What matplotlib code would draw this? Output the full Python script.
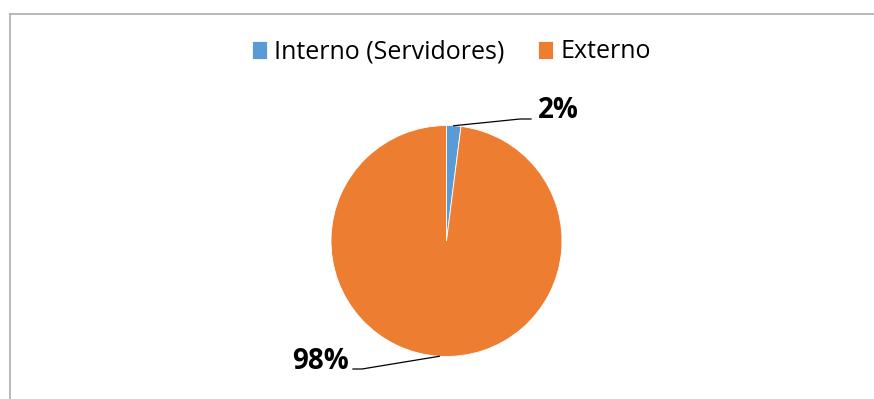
import numpy as np
import matplotlib
matplotlib.use("Agg")
import matplotlib.pyplot as plt
from matplotlib.lines import Line2D

plt.rcParams['font.family'] = ['Open Sans', 'DejaVu Sans']

# datos
categorias = ['Interno (Servidores)', 'Externo']
valores = [2, 98]
colores = ['#5B9BD5', '#ED7D31']

W, H = 874, 399
fig = plt.figure(figsize=(W / 100, H / 100), dpi=100)

# centro y radio del pastel en pixeles
cx, cy, R = 446.5, 241, 115.5
ax = fig.add_axes([(cx - R) / W, (H - cy - R) / H, 2 * R / W, 2 * R / H])

wedges, _ = ax.pie(valores, colors=colores, startangle=90, counterclock=False,
                   wedgeprops=dict(edgecolor='white', linewidth=0.6))
ax.set_xlim(-1, 1)
ax.set_ylim(-1, 1)
ax.set_aspect('equal')

def px(x, y):
    # pixeles de la figura -> coordenadas del eje
    return (x - cx) / R, (cy - y) / R

# etiquetas con lineas guia
etiquetas = [
    # texto en px, alineacion, codo en px, fin en px
    ((538, 118), 'left', (520, 119), (531, 119)),
    ((349, 369), 'right', (362, 369), (353, 369)),
]
for w, v, (tpos, ha, codo, fin) in zip(wedges, valores, etiquetas):
    ang = np.deg2rad((w.theta1 + w.theta2) / 2)
    p0 = (np.cos(ang), np.sin(ang))
    c = px(*codo)
    f = px(*fin)
    ax.plot([p0[0], c[0], f[0]], [p0[1], c[1], f[1]], color='black', lw=0.9,
            clip_on=False)
    tx, ty = px(*tpos)
    ax.text(tx, ty, f'{v}%', ha=ha, va='baseline', fontsize=20,
            fontweight='bold', color='black', clip_on=False)

leg = fig.legend(wedges, categorias, loc='center', ncol=2,
                 bbox_to_anchor=(451.5 / W, 1 - 52 / H), frameon=False,
                 fontsize=18, handlelength=0.6, handleheight=0.75,
                 handletextpad=0.28, columnspacing=1.35)

# marco del grafico (solo lados izquierdo y superior visibles)
x0 = 9.5 / W
y0 = 1 - 13.5 / H
fig.add_artist(Line2D([x0, x0], [0, y0], color='#ADADAD', lw=1.2))
fig.add_artist(Line2D([x0, 1], [y0, y0], color='#ADADAD', lw=1.2))

fig.savefig('out.png', dpi=100, facecolor='white')
